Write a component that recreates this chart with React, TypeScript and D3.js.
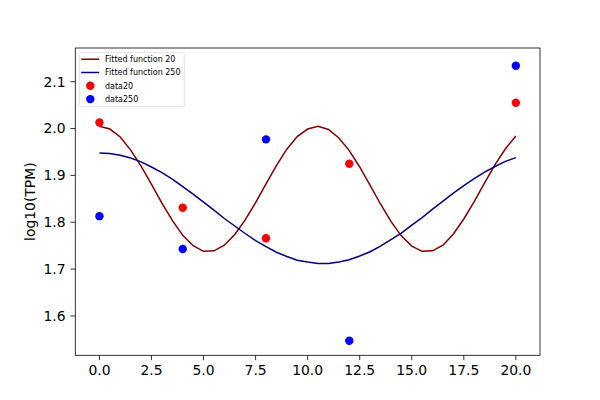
import React from 'react';
import * as d3 from 'd3';

// sample points of the two fitted curves
const fitX = [
  0, 0.5, 1, 1.5, 2, 2.5, 3, 3.5, 4, 4.5, 5, 5.5, 6, 6.5, 7, 7.5, 8, 8.5, 9, 9.5,
  10, 10.5, 11, 11.5, 12, 12.5, 13, 13.5, 14, 14.5, 15, 15.5, 16, 16.5, 17, 17.5,
  18, 18.5, 19, 19.5, 20,
];
const fit20 = [
  2.005, 1.999, 1.982, 1.954, 1.92, 1.881, 1.841, 1.804, 1.772, 1.75, 1.738, 1.739,
  1.751, 1.774, 1.805, 1.842, 1.882, 1.921, 1.956, 1.983, 1.999, 2.005, 1.998, 1.98,
  1.953, 1.918, 1.879, 1.839, 1.802, 1.771, 1.749, 1.738, 1.739, 1.751, 1.775, 1.807,
  1.844, 1.884, 1.923, 1.957, 1.984,
];
const fit250 = [
  1.948, 1.947, 1.943, 1.937, 1.929, 1.918, 1.906, 1.892, 1.876, 1.86, 1.843, 1.826,
  1.808, 1.792, 1.776, 1.761, 1.748, 1.736, 1.727, 1.719, 1.715, 1.712, 1.712, 1.715,
  1.72, 1.728, 1.737, 1.749, 1.763, 1.777, 1.794, 1.81, 1.828, 1.845, 1.862, 1.878,
  1.893, 1.907, 1.919, 1.93, 1.938,
];

// measured points
const timePoints = [0, 4, 8, 12, 20];
const data20 = [2.013, 1.831, 1.766, 1.925, 2.055];
const data250 = [1.813, 1.743, 1.977, 1.547, 2.134];

const xTicks = [0, 2.5, 5, 7.5, 10, 12.5, 15, 17.5, 20];
const yTicks = [1.6, 1.7, 1.8, 1.9, 2.0, 2.1];

const legendItems = [
  { label: 'Fitted function 20', kind: 'line', color: '#800000' },
  { label: 'Fitted function 250', kind: 'line', color: '#000080' },
  { label: 'data20', kind: 'dot', color: '#ff0000' },
  { label: 'data250', kind: 'dot', color: '#0000ff' },
];

const W = 600;
const H = 400;
const left = 75.3;
const right = 540;
const top = 48;
const bottom = 355.3;
const font = 'DejaVu Sans, sans-serif';

export default function App() {
  const x = d3.scaleLinear().domain([-1.16, 21.16]).range([left, right]);
  const y = d3.scaleLinear().domain([1.516, 2.172]).range([bottom, top]);

  const line = d3
    .line<number>()
    .x((_, i) => x(fitX[i]))
    .y((d) => y(d));

  return (
    <svg
      width={W}
      height={H}
      style={{ position: 'absolute', left: 0, top: 0, background: '#fff' }}
      fontFamily={font}
    >
      <rect x={0} y={0} width={W} height={H} fill="#fff" />

      <path d={line(fit20) ?? ''} fill="none" stroke="#800000" strokeWidth={1.5} />
      <path d={line(fit250) ?? ''} fill="none" stroke="#000080" strokeWidth={1.5} />

      {timePoints.map((t, i) => (
        <circle key={'r' + i} cx={x(t)} cy={y(data20[i])} r={4.2} fill="#ff0000" />
      ))}
      {timePoints.map((t, i) => (
        <circle key={'b' + i} cx={x(t)} cy={y(data250[i])} r={4.2} fill="#0000ff" />
      ))}

      {/* axes frame */}
      <rect
        x={left}
        y={top}
        width={right - left}
        height={bottom - top}
        fill="none"
        stroke="#000"
        strokeWidth={0.8}
      />

      {xTicks.map((t) => (
        <g key={'x' + t} transform={`translate(${x(t)},${bottom})`}>
          <line y2={4.9} stroke="#000" strokeWidth={0.8} />
          <text y={19.5} textAnchor="middle" fontSize={13.9} fill="#000">
            {t.toFixed(1)}
          </text>
        </g>
      ))}

      {yTicks.map((t) => (
        <g key={'y' + t} transform={`translate(${left},${y(t)})`}>
          <line x2={-4.9} stroke="#000" strokeWidth={0.8} />
          <text x={-9.7} dy="0.35em" textAnchor="end" fontSize={13.9} fill="#000">
            {t.toFixed(1)}
          </text>
        </g>
      ))}

      <text
        transform={`translate(35,${(top + bottom) / 2}) rotate(-90)`}
        textAnchor="middle"
        fontSize={13.9}
        fill="#000"
      >
        log10(TPM)
      </text>

      {/* legend */}
      <g>
        <rect
          x={79.3}
          y={52.7}
          width={105}
          height={54}
          rx={2}
          fill="#fff"
          fillOpacity={0.8}
          stroke="#d9d9d9"
          strokeWidth={0.8}
        />
        {legendItems.map((item, i) => {
          const cy = 59.2 + i * 13.3;
          return (
            <g key={item.label}>
              {item.kind === 'line' ? (
                <line x1={81.2} x2={99.2} y1={cy} y2={cy} stroke={item.color} strokeWidth={1.5} />
              ) : (
                <circle cx={90.3} cy={cy} r={4.2} fill={item.color} />
              )}
              <text x={105} y={cy} dy="0.35em" fontSize={8} fill="#000">
                {item.label}
              </text>
            </g>
          );
        })}
      </g>
    </svg>
  );
}
